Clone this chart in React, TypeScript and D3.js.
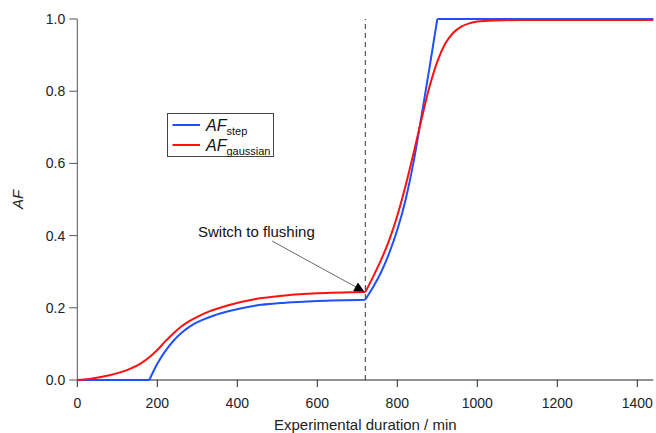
import * as d3 from "d3";
import React from "react";

// values
const stepTime = [0, 180, 200, 220, 240, 260, 280, 300, 340, 380, 440, 520, 600, 720, 740, 760, 780, 800, 820, 840, 860, 880, 900, 1440];
const stepValue = [0, 0, 0.045, 0.08, 0.108, 0.13, 0.147, 0.16, 0.178, 0.191, 0.205, 0.214, 0.219, 0.2225, 0.258, 0.3, 0.352, 0.416, 0.496, 0.6, 0.728, 0.862, 1.0, 1.0];
const stepKinks = [180, 720, 900];

const gaussTime = [0, 30, 80, 130, 160, 180, 200, 220, 240, 260, 280, 300, 330, 380, 440, 520, 600, 720, 740, 760, 780, 800, 820, 840, 860, 880, 900, 920, 940, 960, 980, 1000, 1040, 1100, 1440];
const gaussValue = [0, 0.003, 0.013, 0.03, 0.047, 0.063, 0.083, 0.107, 0.129, 0.148, 0.163, 0.175, 0.19, 0.208, 0.223, 0.234, 0.24, 0.2435, 0.287, 0.334, 0.388, 0.455, 0.535, 0.625, 0.72, 0.81, 0.882, 0.932, 0.962, 0.979, 0.988, 0.993, 0.996, 0.997, 0.997];
const gaussKinks = [720];

const xTicks = [0, 200, 400, 600, 800, 1000, 1200, 1400];
const yTicks = [0, 0.2, 0.4, 0.6, 0.8, 1.0];
const switchTime = 720;

const W = 656;
const H = 433;
const font = "'Liberation Sans', Arial, sans-serif";
const BLUE = "#1f4fff";
const RED = "#ff1010";

const x = d3.scaleLinear().domain([0, 1440]).range([77.3, 653.3]);
const y = d3.scaleLinear().domain([0, 1]).range([380, 19]);

const line = d3
  .line<[number, number]>()
  .x((d) => x(d[0]))
  .y((d) => y(d[1]))
  .curve(d3.curveMonotoneX);

// split a series at its kinks so every piece is smooth but corners stay sharp
const pathFor = (t: number[], v: number[], kinks: number[]) => {
  const pts: [number, number][] = t.map((tt, i) => [tt, v[i]]);
  const segs: [number, number][][] = [[]];
  pts.forEach((p) => {
    segs[segs.length - 1].push(p);
    if (kinks.includes(p[0])) segs.push([p]);
  });
  return segs
    .filter((s) => s.length > 1)
    .map((s) => line(s))
    .join("");
};

const App = () => {
  const stepPath = pathFor(stepTime, stepValue, stepKinks);
  const gaussPath = pathFor(gaussTime, gaussValue, gaussKinks);
  const x0 = x.range()[0];
  const x1 = x.range()[1];

  return (
    <svg
      width={W}
      height={H}
      style={{ position: "fixed", left: 0, top: 0, background: "#fff" }}
      fontFamily={font}
    >
      <defs>
        <marker id="arr" viewBox="0 0 10 10" refX="10" refY="5" markerWidth="11" markerHeight="10" markerUnits="userSpaceOnUse" orient="auto">
          <path d="M0,0 L10,5 L0,10 z" fill="#000" />
        </marker>
      </defs>

      {/* y axis */}
      <line x1={x0} x2={x0} y1={y(1)} y2={y(0)} stroke="#555" strokeWidth={1} />
      {yTicks.map((t) => (
        <g key={t}>
          <line x1={x0 - 8} x2={x0} y1={y(t)} y2={y(t)} stroke="#555" />
          <text x={x0 - 12} y={y(t)} dy="0.35em" textAnchor="end" fontSize={14} fill="#222">
            {t.toFixed(1)}
          </text>
        </g>
      ))}
      <text transform={`translate(23,${y(0.5)}) rotate(-90)`} textAnchor="middle" fontSize={15} fontStyle="italic" fill="#222">
        AF
      </text>

      {/* x axis */}
      <line x1={x0} x2={x1} y1={y(0)} y2={y(0)} stroke="#222" strokeWidth={1} />
      {xTicks.map((t) => (
        <g key={t}>
          <line x1={x(t)} x2={x(t)} y1={y(0)} y2={y(0) + 7} stroke="#222" />
          <text x={x(t)} y={408} textAnchor="middle" fontSize={14} fill="#222">
            {t}
          </text>
        </g>
      ))}
      <text x={(x0 + x1) / 2} y={430} textAnchor="middle" fontSize={15} fill="#222">
        Experimental duration / min
      </text>

      {/* switch marker */}
      <line x1={x(switchTime)} x2={x(switchTime)} y1={y(0)} y2={y(1)} stroke="#333" strokeWidth={1} strokeDasharray="5,4" />

      {/* curves */}
      <path d={stepPath} fill="none" stroke={BLUE} strokeWidth={2} />
      <path d={gaussPath} fill="none" stroke={RED} strokeWidth={2} />

      {/* annotation */}
      <text x={198} y={237} fontSize={15} fill="#111">
        Switch to flushing
      </text>
      <line x1={272} x2={x(switchTime) - 1} y1={241} y2={y(gaussValue[gaussTime.indexOf(switchTime)]) - 0.5} stroke="#444" strokeWidth={0.8} markerEnd="url(#arr)" />

      {/* legend */}
      <rect x={167.5} y={113.5} width={106} height={43} fill="#fff" stroke="#444" strokeWidth={1} />
      <line x1={172.5} x2={200} y1={125} y2={125} stroke={BLUE} strokeWidth={2} />
      <line x1={172.5} x2={200} y1={145} y2={145} stroke={RED} strokeWidth={2} />
      <text x={206} y={131} fontSize={16} fill="#111">
        <tspan fontStyle="italic">AF</tspan>
        <tspan fontSize={11} dy={4}>step</tspan>
      </text>
      <text x={206} y={151} fontSize={16} fill="#111">
        <tspan fontStyle="italic">AF</tspan>
        <tspan fontSize={11} dy={4}>gaussian</tspan>
      </text>
    </svg>
  );
};

export default App;
